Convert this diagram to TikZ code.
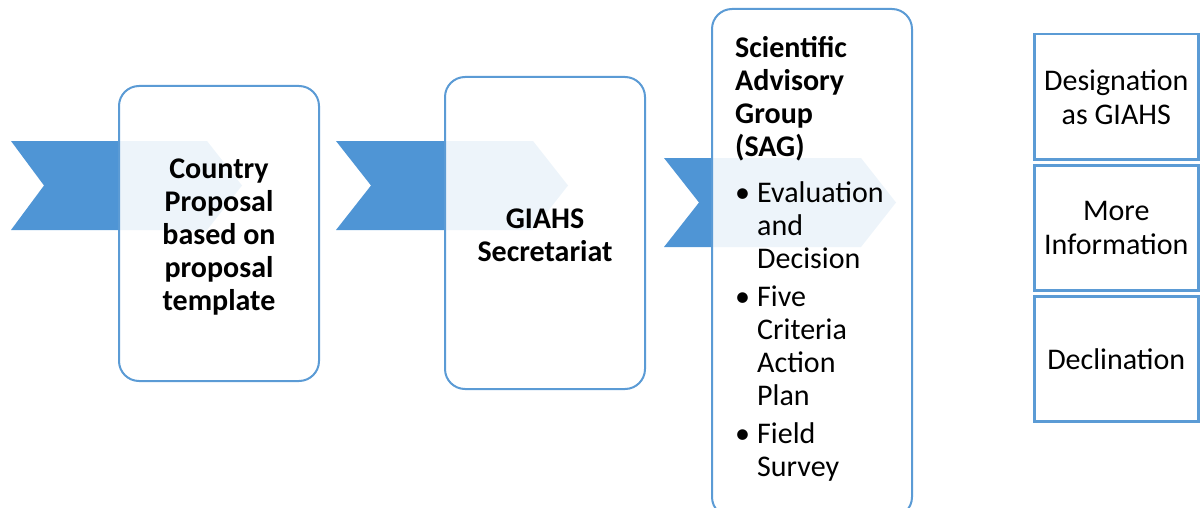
\documentclass[tikz,border=0pt]{standalone}
\usepackage{fontspec}
\setmainfont{Carlito}
\definecolor{chev}{HTML}{4F95D5}
\definecolor{edge}{HTML}{5B9BD5}
\begin{document}
\begin{tikzpicture}[x=1pt,y=-1pt,
  chevron/.style={fill=chev,draw=none},
  stage/.style={draw=edge,line width=2pt,rounded corners=20pt,fill=white,fill opacity=0.9,text opacity=1,draw opacity=1,inner sep=0pt,anchor=north west},
  outcome/.style={draw=edge,line width=2.5pt,fill=white,inner sep=0pt,anchor=north west,align=center,font=\fontsize{30}{34}\selectfont},
  lbl/.style={font=\fontsize{30}{33}\selectfont\bfseries,align=center}]
\useasboundingbox (0,0) rectangle (1204,508);
\clip (0,0) rectangle (1204,508);
% chevrons
\path[chevron] (11,141) -- (207,141) -- (242,185.5) -- (207,230) -- (11,230) -- (44,185.5) -- cycle;
\path[chevron] (336,141) -- (533,141) -- (568,185.5) -- (533,230) -- (336,230) -- (371,185.5) -- cycle;
\path[chevron] (664,158) -- (861,158) -- (896,202.5) -- (861,247) -- (664,247) -- (699,202.5) -- cycle;
% stage boxes
\node[stage,minimum width=200pt,minimum height=295pt] (cp) at (118,85) {};
\node[lbl] (cpt) at ([yshift=-4pt]cp.center) {Country\\Proposal\\based on\\proposal\\template};
\node[stage,minimum width=200pt,minimum height=312pt] (gs) at (444,76) {};
\node[lbl] (gst) at ([yshift=-2pt]gs.center) {GIAHS\\Secretariat};
\node[stage,minimum width=200pt,minimum height=508pt] (sag) at (711,8) {};
\node[anchor=north west,inner sep=0pt,align=left,font=\fontsize{30}{33}\selectfont] (sagt) at (735,36)
{\textbf{Scientific}\\\textbf{Advisory}\\\textbf{Group}\\\textbf{(SAG)}\\[13pt]
\makebox[22pt][l]{\textbullet}Evaluation\\\hspace*{22pt}and\\\hspace*{22pt}Decision\\[5pt]
\makebox[22pt][l]{\textbullet}Five\\\hspace*{22pt}Criteria\\\hspace*{22pt}Action\\\hspace*{22pt}Plan\\[5pt]
\makebox[22pt][l]{\textbullet}Field\\\hspace*{22pt}Survey};
% outcomes
\node[outcome,minimum width=164pt,minimum height=125pt] (des) at (1033,33) {Designation\\as GIAHS};
\node[outcome,minimum width=164pt,minimum height=125pt] (more) at (1033,164) {More\\Information};
\node[outcome,minimum width=164pt,minimum height=125pt] (dec) at (1033,295) {Declination};
\end{tikzpicture}
\end{document}
